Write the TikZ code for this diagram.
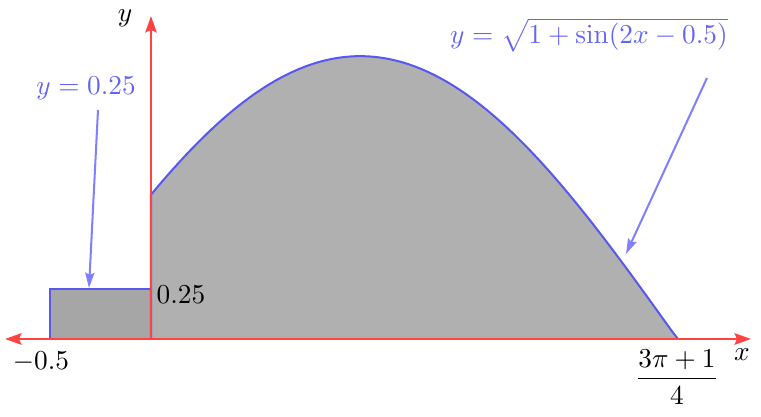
\documentclass[tikz,border=0pt]{standalone}
\usepackage{amsmath}
\usetikzlibrary{arrows.meta}
\definecolor{axisred}{RGB}{255,66,66}
\definecolor{curveblue}{RGB}{88,88,238}
\definecolor{labelblue}{RGB}{100,100,245}
\definecolor{pointerblue}{RGB}{128,128,255}
\definecolor{areagray}{RGB}{176,176,176}
\definecolor{rectgray}{RGB}{166,166,166}
\tikzset{
  axisline/.style={draw=axisred, line width=1pt},
  axistip/.style={-{Stealth[length=6.5pt,width=4.5pt,inset=1pt]}},
  curveline/.style={draw=curveblue, line width=0.8pt},
  pointer/.style={draw=pointerblue, line width=0.8pt, -{Stealth[length=6pt,width=3.6pt,inset=0.8pt]}},
  bluelabel/.style={text=labelblue, inner sep=1pt, scale=1.08},
  blacklabel/.style={text=black, inner sep=1pt, scale=1.08}
}
\begin{document}
\begin{tikzpicture}[x=0.3953pt, y=-0.3953pt]
\useasboundingbox (0,0) rectangle (761,417);
% shaded region under the curve
\fill[areagray] (151,339) -- plot[domain=0:2.6062, samples=120]
  ({151+202*\x}, {339-200*sqrt(max(0,1+sin(deg(2*\x-0.5))))}) -- (677,339) -- cycle;
% rectangle region
\fill[rectgray] (50,339) rectangle (151,289);
% boundaries
\draw[curveline] (151,339) -- plot[domain=0:2.6062, samples=120]
  ({151+202*\x}, {339-200*sqrt(max(0,1+sin(deg(2*\x-0.5))))}) -- (677,339);
\draw[curveline] (50,339) -- (50,289) -- (151,289);
% axes
\coordinate (O) at (151,339);
\coordinate (xl) at (5,339);
\coordinate (xr) at (751,339);
\coordinate (yt) at (151,16);
\draw[axisline, axistip] (O) -- (xl);
\draw[axisline, axistip] (O) -- (xr);
\draw[axisline, axistip] (O) -- (yt);
% labels
\node[blacklabel] (ylab) at (125,18) {$y$};
\node[blacklabel] (xlab) at (742,355) {$x$};
\node[blacklabel] (m05) at (41,362) {$-0.5$};
\node[blacklabel] (q25) at (181,295) {$0.25$};
\node[blacklabel] (endlab) at (677,377) {$\dfrac{3\pi+1}{4}$};
\node[bluelabel] (rectlab) at (86,88) {$y=0.25$};
\node[bluelabel] (curvelab) at (589,35) {$y=\sqrt{1+\sin(2x-0.5)}$};
% pointers
\coordinate (p1s) at (98,110);
\coordinate (p1e) at (89,288);
\coordinate (p2s) at (707,78);
\coordinate (p2e) at (626,254);
\draw[pointer] (p1s) -- (p1e);
\draw[pointer] (p2s) -- (p2e);
\end{tikzpicture}
\end{document}
